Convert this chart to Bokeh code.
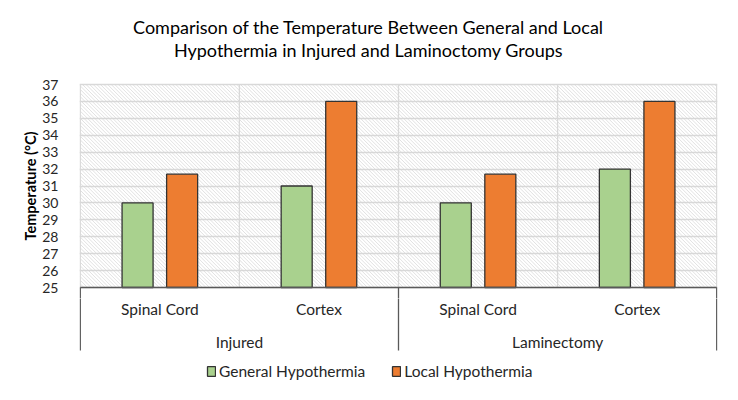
from bokeh.plotting import figure
from bokeh.layouts import column
from bokeh.models import Range1d, FixedTicker, Legend, LegendItem
from bokeh.core.properties import value
from bokeh.embed import file_html
from bokeh.resources import INLINE

# ---- data ----
title_lines = ["Comparison of the Temperature Between General and Local",
               "Hypothermia in Injured and Laminoctomy Groups"]
groups = ["Injured", "Laminectomy"]
sites = ["Spinal Cord", "Cortex"]
general = [30, 31, 30, 32]
local = [31.7, 36, 31.7, 36]
series_names = ["General Hypothermia", "Local Hypothermia"]
series_colors = ["#A9D18E", "#ED7D31"]
y_ticks = list(range(25, 38))
y_label = "Temperature (°C)"

# ---- layout constants (pixels) ----
W = 732
ML, MR = 79, 15
FONT = "Lato"
TXT = "#262626"
EDGE = "#333333"
TITLE_H = 73
PLOT_PAD = 11           # frame padding above 37 and below 25
BOTTOM_H = 96
TITLE_CX = 368          # horizontal centre of the title on the page
ymin, ymax = y_ticks[0], y_ticks[-1]
plot_h = 203            # pixels between 25 and 37
ppu = plot_h / (ymax - ymin)
main_h = plot_h + 2 * PLOT_PAD

n_cat = len(groups) * len(sites)
frame_w = W - ML - MR
ppx = frame_w / n_cat
eps = 0.8 / ppx
x_range = Range1d(-eps, n_cat + eps)
cat_x = list(range(n_cat))


def bare(fig):
    fig.outline_line_color = None
    fig.xgrid.visible = False
    fig.ygrid.visible = False
    return fig


# ---- title figure ----
pt = bare(figure(width=W, height=TITLE_H, output_backend="svg", toolbar_location=None,
                 x_axis_location=None, y_axis_location=None,
                 x_range=Range1d(0, W), y_range=Range1d(0, TITLE_H),
                 min_border_left=0, min_border_right=0, min_border_top=0, min_border_bottom=0))
pt.text(x=[(TITLE_CX - ML) * W / frame_w] * 2, y=[TITLE_H - 26.5, TITLE_H - 49.5], text=title_lines,
        text_align="center", text_baseline="alphabetic", text_font=value(FONT),
        text_font_size="18px", text_color="#000000")

# ---- main plot ----
p = figure(width=W, height=main_h, output_backend="svg", toolbar_location=None,
           x_axis_location=None, x_range=x_range,
           y_range=Range1d(ymin - PLOT_PAD / ppu, ymax + PLOT_PAD / ppu),
           min_border_left=ML, min_border_right=MR, min_border_top=0, min_border_bottom=0)
p.outline_line_color = None
p.xgrid.visible = False
p.ygrid.ticker = FixedTicker(ticks=y_ticks)
p.ygrid.grid_line_color = "#d9d9d9"
p.ygrid.grid_line_width = 1.3

ya = p.yaxis[0]
ya.ticker = FixedTicker(ticks=y_ticks)
ya.axis_line_color = None
ya.major_tick_line_color = None
ya.minor_tick_line_color = None
ya.major_label_standoff = 15
ya.major_label_text_font = FONT
ya.major_label_text_font_size = "14px"
ya.major_label_text_color = TXT
ya.axis_label = y_label
ya.axis_label_standoff = 0
ya.axis_label_text_font = FONT
ya.axis_label_text_font_size = "14.5px"
ya.axis_label_text_font_style = "bold"
ya.axis_label_text_color = "#000000"

# diagonal-line texture of the plot area (computed in pixel space)
box_w = n_cat * ppx
step = 3.6
hx0, hx1, hy0, hy1 = [], [], [], []
c = -plot_h
while c < box_w:
    u0 = max(c, 0.0)
    u1 = min(box_w, c + plot_h)
    if u1 > u0:
        hx0.append(u0 / ppx); hy0.append(ymax - (u0 - c) / ppu)
        hx1.append(u1 / ppx); hy1.append(ymax - (u1 - c) / ppu)
    c += step
p.segment(x0=hx0, y0=hy0, x1=hx1, y1=hy1, line_color="#d4d4d4", line_width=0.7)

# vertical gridlines at category boundaries
bx = list(range(n_cat + 1))
p.segment(x0=bx, x1=bx, y0=[ymin] * len(bx), y1=[ymax] * len(bx), line_color="#d9d9d9", line_width=1.3)

# bars
off = 0.14
bw = 0.195
xg = [i + 0.5 - off for i in cat_x]
xl = [i + 0.5 + off for i in cat_x]
p.vbar(x=xg, top=general, bottom=ymin, width=bw, fill_color=series_colors[0], line_color=EDGE, line_width=1.3)
p.vbar(x=xl, top=local, bottom=ymin, width=bw, fill_color=series_colors[1], line_color=EDGE, line_width=1.3)

# category axis line and group separators (upper part)
sx = [g * len(sites) for g in range(len(groups) + 1)]
p.segment(x0=[0], x1=[n_cat], y0=[ymin], y1=[ymin], line_color="#595959", line_width=1.3)
p.segment(x0=sx, x1=sx, y0=[ymin] * len(sx), y1=[ymin - PLOT_PAD / ppu - 1] * len(sx),
          line_color="#595959", line_width=1.3)

# ---- category labels + legend ----
pb = bare(figure(width=W, height=BOTTOM_H, output_backend="svg", toolbar_location=None,
                 x_axis_location=None, y_axis_location=None,
                 x_range=x_range, y_range=Range1d(0, BOTTOM_H),
                 min_border_left=ML, min_border_right=MR, min_border_top=0, min_border_bottom=0))

# legend proxies: degenerate (zero-size) bars sitting on the first separator line
proxy_y = BOTTOM_H - 20
lr = [pb.vbar(x=[sx[0]], top=proxy_y, bottom=proxy_y, width=0, fill_color=col, line_color=EDGE, line_width=1.3)
      for col in series_colors]

pb.segment(x0=sx, x1=sx, y0=[BOTTOM_H + 2] * len(sx), y1=[BOTTOM_H - 52] * len(sx),
           line_color="#595959", line_width=1.3)
site_labels = [s for g in groups for s in sites]
pb.text(x=[i + 0.5 for i in cat_x], y=[BOTTOM_H - 10] * n_cat, text=site_labels,
        text_align="center", text_baseline="middle", text_font=value(FONT),
        text_font_size="15.5px", text_color=TXT)
pb.text(x=[g * len(sites) + len(sites) / 2 for g in range(len(groups))],
        y=[BOTTOM_H - 43] * len(groups), text=groups,
        text_align="center", text_baseline="middle", text_font=value(FONT),
        text_font_size="15.5px", text_color=TXT)

legend = Legend(items=[LegendItem(label=n, renderers=[r]) for n, r in zip(series_names, lr)],
                orientation="horizontal", location=(209 - ML - 3, 14), border_line_color=None,
                background_fill_alpha=0, padding=3, margin=0, spacing=26,
                glyph_width=10, glyph_height=12, label_standoff=3,
                label_text_font=FONT, label_text_font_size="15.5px", label_text_color=TXT)
pb.add_layout(legend)

layout = column(pt, p, pb, spacing=0)
open("out.html", "w").write(file_html(layout, INLINE))
